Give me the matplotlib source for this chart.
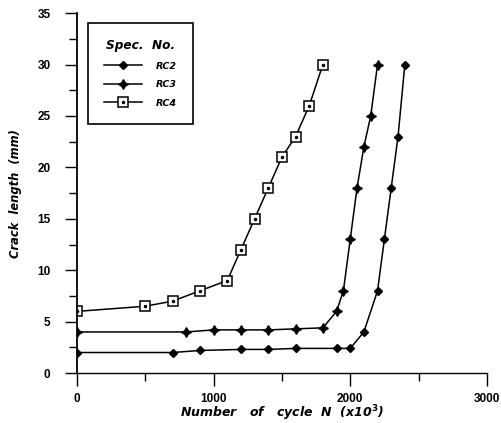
import matplotlib
matplotlib.use("Agg")
from matplotlib import pyplot as plt
from matplotlib.ticker import MultipleLocator
from matplotlib.legend_handler import HandlerTuple

plt.rcParams['font.family'] = ['Liberation Sans', 'DejaVu Sans']
plt.rcParams['mathtext.fontset'] = 'dejavusans'

# crack growth data, cycles in x10^3
rc2_n = [0, 700, 900, 1200, 1400, 1600, 1900, 2000, 2100, 2200, 2250, 2300, 2350, 2400]
rc2_a = [2, 2, 2.2, 2.3, 2.3, 2.4, 2.4, 2.4, 4, 8, 13, 18, 23, 30]

rc3_n = [0, 800, 1000, 1200, 1400, 1600, 1800, 1900, 1950, 2000, 2050, 2100, 2150, 2200]
rc3_a = [4, 4, 4.2, 4.2, 4.2, 4.3, 4.4, 6, 8, 13, 18, 22, 25, 30]

rc4_n = [0, 500, 700, 900, 1100, 1200, 1300, 1400, 1500, 1600, 1700, 1800]
rc4_a = [6, 6.5, 7, 8, 9, 12, 15, 18, 21, 23, 26, 30]

wide = ['DejaVu Sans']

fig = plt.figure(figsize=(5.01, 4.23), dpi=100)
ax = fig.add_axes([0.1537, 0.118, 0.818, 0.851])

lw = 1.1
h2, = ax.plot(rc2_n, rc2_a, color='black', lw=lw, marker='D', ms=4.5, mfc='black', mec='black')
h3, = ax.plot(rc3_n, rc3_a, color='black', lw=lw, marker=(4, 1, 0), ms=7, mfc='black', mec='black')
h4, = ax.plot(rc4_n, rc4_a, color='black', lw=lw, marker='s', ms=6.5, mfc='white', mec='black', mew=1.1)
h4d, = ax.plot(rc4_n, rc4_a, ls='none', marker='.', ms=3, color='black')

ax.set_xlim(0, 3000)
ax.set_ylim(0, 35)
ax.xaxis.set_major_locator(MultipleLocator(1000))
ax.xaxis.set_minor_locator(MultipleLocator(500))
ax.yaxis.set_major_locator(MultipleLocator(5))
ax.yaxis.set_minor_locator(MultipleLocator(2.5))
ax.tick_params(which='major', direction='out', length=9, width=1, labelsize=8.5)
ax.tick_params(which='minor', direction='out', length=6, width=1)
ax.tick_params(axis='x', which='major', pad=5)
ax.tick_params(axis='y', which='major', pad=10)
for lab in ax.get_xticklabels() + ax.get_yticklabels():
    lab.set_fontweight('bold')

ax.spines['top'].set_visible(False)
ax.spines['right'].set_visible(False)
ax.spines['left'].set_linewidth(1.3)
ax.spines['bottom'].set_linewidth(1.0)

ax.set_xlabel(r'Number   of   cycle  N  (x10$^{\mathbf{3}}$)', fontsize=9, fontweight='bold',
              style='italic', family=wide, labelpad=-1)
ax.set_ylabel('Crack  length  (mm)', fontsize=8.3, fontweight='bold', style='italic',
              family=wide, labelpad=11)

leg = ax.legend([h2, h3, (h4, h4d)], ['RC2', 'RC3', 'RC4'],
                handler_map={tuple: HandlerTuple(ndivide=1, pad=0)},
                title='Spec.  No.', loc='upper left', bbox_to_anchor=(0.027, 0.972),
                fancybox=False, edgecolor='black', framealpha=1,
                prop={'weight': 'bold', 'style': 'italic', 'size': 6.8, 'family': wide},
                handlelength=4.0, borderpad=1.7, labelspacing=1.0, handletextpad=1.5,
                borderaxespad=0)
leg.get_title().set_fontweight('bold')
leg.get_title().set_fontstyle('italic')
leg.get_title().set_fontfamily(wide)
leg.get_title().set_fontsize(8.7)
leg.get_frame().set_linewidth(1.2)

plt.savefig('out.png', dpi=100)
